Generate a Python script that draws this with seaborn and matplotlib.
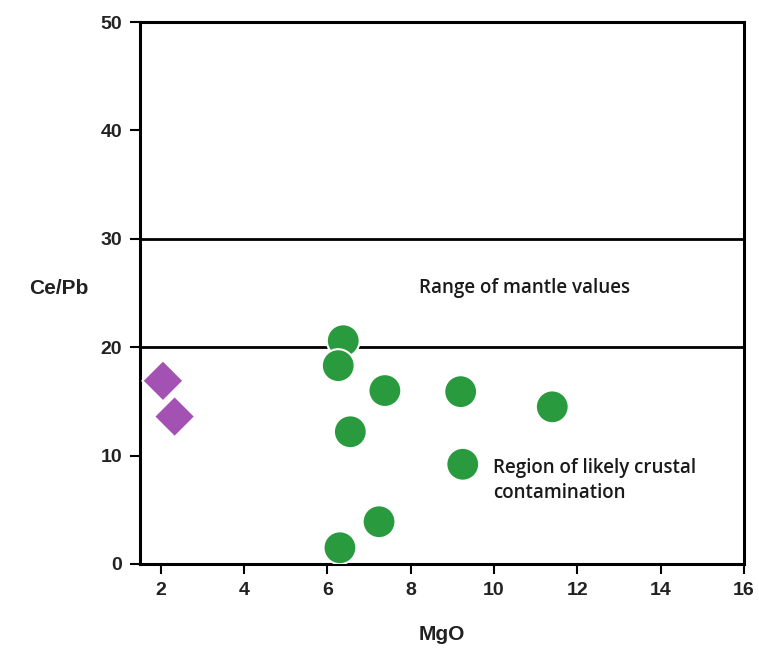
import numpy as np
import pandas as pd
import matplotlib
matplotlib.use("Agg")
import matplotlib.pyplot as plt
import seaborn as sns

# Datos
mgo_basalto = [6.38, 6.26, 7.38, 9.20, 11.40, 6.55, 9.25, 7.24, 6.30]
cepb_basalto = [20.6, 18.3, 16.0, 15.9, 14.5, 12.2, 9.2, 3.9, 1.5]
mgo_otro = [2.05, 2.33]
cepb_otro = [16.9, 13.6]
lineas_manto = [20, 30]
xticks = [2, 4, 6, 8, 10, 12, 14, 16]
yticks = [0, 10, 20, 30, 40, 50]

df = pd.DataFrame({
    "MgO": mgo_basalto + mgo_otro,
    "Ce/Pb": cepb_basalto + cepb_otro,
    "grupo": ["basalto"] * len(mgo_basalto) + ["otro"] * len(mgo_otro),
})

sns.set_style("white")
plt.rcParams["font.family"] = ["Liberation Sans", "DejaVu Sans"]

fig = plt.figure(figsize=(7.59, 6.53), dpi=100)
ax = fig.add_axes([0.1845, 0.1363, 0.7955, 0.830])

# lineas del rango del manto
for y in lineas_manto:
    ax.axhline(y, color="black", lw=2.0, zorder=1)

sns.scatterplot(
    data=df, x="MgO", y="Ce/Pb", hue="grupo", style="grupo",
    palette={"basalto": "#2a9a3e", "otro": "#a451b4"},
    markers={"basalto": "o", "otro": "D"},
    s=560, edgecolor="white", linewidth=1.5, legend=False, ax=ax, zorder=3,
)
# tamaño de diamantes
ax.collections[0].set_sizes([560 if g == "basalto" else 440 for g in df["grupo"]])

ax.set_xlim(1.5, 16)
ax.set_ylim(0, 50)
ax.set_xticks(xticks)
ax.set_yticks(yticks)
ax.tick_params(axis="both", direction="out", length=7, width=1.5,
               labelsize=14, color="black", pad=6, bottom=True, left=True)
for lab in ax.get_xticklabels() + ax.get_yticklabels():
    lab.set_fontweight("bold")
    lab.set_color("#222222")
ax.tick_params(axis="x", pad=6)

for sp in ax.spines.values():
    sp.set_visible(True)
    sp.set_color("black")
    sp.set_linewidth(2.2)

ax.set_xlabel("MgO", fontsize=15, fontweight="bold", color="#222222", labelpad=19)
ax.set_ylabel("Ce/Pb", fontsize=15, fontweight="bold", color="#222222",
              rotation=0, labelpad=0)
ax.yaxis.set_label_coords(-0.135, 0.49)

ax.text(8.2, 25.5, "Range of mantle values", fontsize=13.5, family="Open Sans",
        weight="semibold", va="center", ha="left", color="#1a1a1a")
ax.text(9.97, 7.7, "Region of likely crustal\ncontamination", fontsize=13.5,
        family="Open Sans", weight="semibold", va="center", ha="left",
        color="#1a1a1a", linespacing=1.3)

fig.savefig("out.png", dpi=100)
